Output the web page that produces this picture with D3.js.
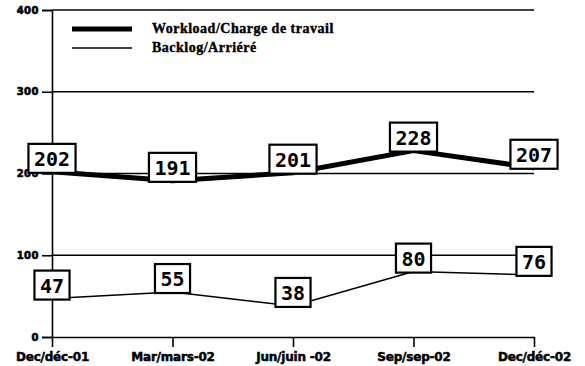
<!DOCTYPE html>
<html>
<head>
<meta charset="utf-8">
<script src="https://cdn.jsdelivr.net/npm/d3@7"></script>
<style>
  html, body { margin: 0; padding: 0; background: #fff; }
  svg { display: block; }
</style>
</head>
<body>
<svg id="chart" width="585" height="366"></svg>
<script>
// Quarterly categories
const categories = ["Dec/déc-01", "Mar/mars-02", "Jun/juin -02", "Sep/sep-02", "Dec/déc-02"];
// Series values
const workload = [202, 191, 201, 228, 207];
const backlog = [47, 55, 38, 80, 76];
// Y axis ticks
const yTicks = [0, 100, 200, 300, 400];
// Legend labels
const seriesNames = ["Workload/Charge de travail", "Backlog/Arriéré"];

const svg = d3.select("#chart");

const x = d3.scalePoint().domain(categories).range([52, 534]);
const y = d3.scaleLinear().domain([0, 400]).range([337, 10]);

// Horizontal gridlines
svg.append("g")
  .selectAll("line")
  .data(yTicks.filter(d => d > 0))
  .join("line")
  .attr("x1", 52).attr("x2", 534)
  .attr("y1", d => y(d)).attr("y2", d => y(d))
  .attr("stroke", "#000").attr("stroke-width", 1.6);

// Y axis
const yAxis = svg.append("g")
  .attr("transform", "translate(52,0)")
  .call(d3.axisLeft(y).tickValues(yTicks).tickSize(10).tickPadding(3));
yAxis.select(".domain").attr("stroke", "#000").attr("stroke-width", 1.6);
yAxis.selectAll(".tick line").attr("stroke", "#000").attr("stroke-width", 1.6);
yAxis.selectAll(".tick text")
  .attr("font-family", "DejaVu Sans")
  .attr("font-weight", "bold")
  .attr("font-size", 10)
  .attr("letter-spacing", 0.5)
  .attr("stroke", "#000")
  .attr("stroke-width", 0.6)
  .attr("fill", "#000");

// X axis
const xAxis = svg.append("g")
  .attr("transform", "translate(0,337)")
  .call(d3.axisBottom(x).tickSize(10).tickPadding(5).tickSizeOuter(0));
xAxis.select(".domain").attr("stroke", "#000").attr("stroke-width", 1.6);
xAxis.selectAll(".tick line").attr("stroke", "#000").attr("stroke-width", 1.6);
xAxis.selectAll(".tick text")
  .attr("font-family", "DejaVu Sans")
  .attr("font-weight", "bold")
  .attr("font-size", 12)
  .attr("letter-spacing", -0.2)
  .attr("stroke", "#000")
  .attr("stroke-width", 0.5)
  .attr("fill", "#000");

// Series lines
const line = d3.line().x((d, i) => x(categories[i])).y(d => y(d));
svg.append("path")
  .datum(workload)
  .attr("d", line)
  .attr("fill", "none")
  .attr("stroke", "#000")
  .attr("stroke-width", 5)
  .attr("stroke-linejoin", "round");
svg.append("path")
  .datum(backlog)
  .attr("d", line)
  .attr("fill", "none")
  .attr("stroke", "#000")
  .attr("stroke-width", 1.5);

// Value labels in boxes
function drawLabels(values) {
  const g = svg.append("g");
  values.forEach((v, i) => {
    const cx = x(categories[i]);
    const bottom = y(v) + 1;
    const lg = g.append("g");
    const rect = lg.append("rect");
    const t = lg.append("text")
      .attr("x", cx)
      .attr("y", bottom - 7)
      .attr("text-anchor", "middle")
      .attr("font-family", "DejaVu Sans Mono")
      .attr("font-weight", "bold")
      .attr("font-size", 20)
      .attr("fill", "#000")
      .text(v);
    const w = t.node().getComputedTextLength() + 11;
    rect.attr("x", cx - w / 2)
      .attr("y", bottom - 29)
      .attr("width", w)
      .attr("height", 29)
      .attr("fill", "#fff")
      .attr("stroke", "#000")
      .attr("stroke-width", 2.2);
  });
}
drawLabels(workload);
drawLabels(backlog);

// Legend
const legend = svg.append("g");
const legendRows = [
  { name: seriesNames[0], width: 5, yy: 29 },
  { name: seriesNames[1], width: 1.5, yy: 48 }
];
legendRows.forEach(r => {
  legend.append("line")
    .attr("x1", 72).attr("x2", 132)
    .attr("y1", r.yy).attr("y2", r.yy)
    .attr("stroke", "#000")
    .attr("stroke-width", r.width);
  legend.append("text")
    .attr("x", 152)
    .attr("y", r.yy + 4)
    .attr("font-family", "Liberation Serif")
    .attr("font-weight", "bold")
    .attr("font-size", 14)
    .attr("letter-spacing", 0.5)
    .attr("stroke", "#000")
    .attr("stroke-width", 0.4)
    .attr("fill", "#000")
    .text(r.name);
});
</script>
</body>
</html>
